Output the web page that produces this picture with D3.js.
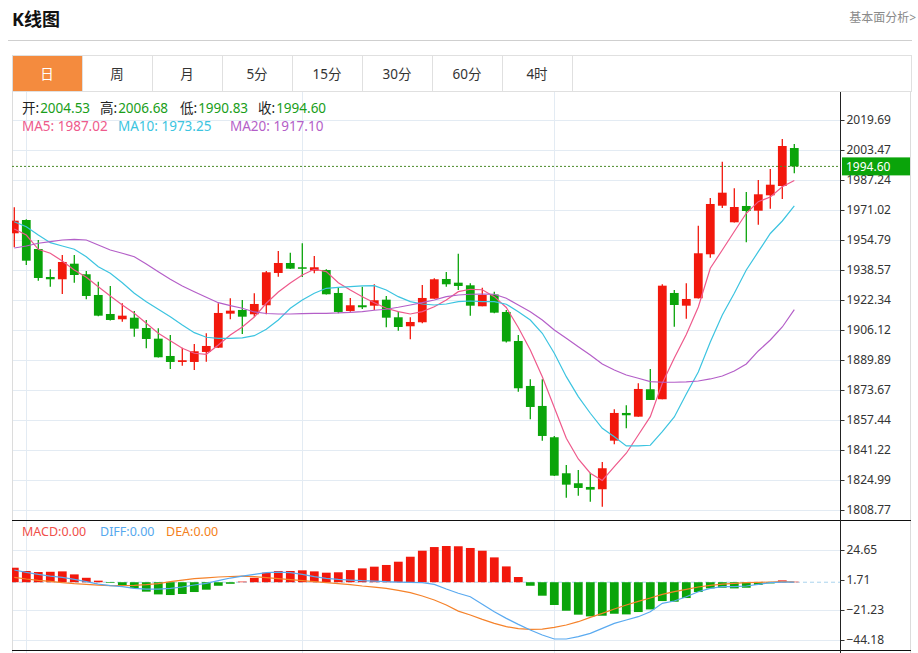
<!DOCTYPE html>
<html lang="zh">
<head>
<meta charset="utf-8">
<script src="https://d3js.org/d3.v7.min.js"></script>
<style>
body { margin: 0; background: #fff; }
text { font-family: "Noto Sans", "Noto Sans CJK SC", sans-serif; }
</style>
</head>
<body>
<svg width="918" height="653"></svg>
<script>
var tabs = ["日", "周", "月", "5分", "15分", "30分", "60分", "4时"];
var priceTicks = [2019.69, 2003.47, 1987.24, 1971.02, 1954.79, 1938.57, 1922.34, 1906.12, 1889.89, 1873.67, 1857.44, 1841.22, 1824.99, 1808.77];
var macdTicks = [24.65, 1.71, -21.23, -44.18];
var monthLines = [1, 24, 45];

var opens = [1958.42, 1965.61, 1949.93, 1934.79, 1933.55, 1941.98, 1936.25, 1925.06, 1914.78, 1911.92,
  1912.78, 1907.21, 1901.43, 1892.07, 1888.83, 1888.83, 1894.24, 1896.56, 1914.95, 1916.95,
  1914.62, 1919.49, 1936.96, 1942.36, 1940.04, 1938.20, 1938.58, 1926.14, 1916.41, 1919.49,
  1919.27, 1922.52, 1913.00, 1908.13, 1910.30, 1923.06, 1933.71, 1931.71, 1930.30, 1918.95,
  1925.33, 1915.87, 1900.18, 1875.85, 1865.04, 1848.11, 1828.64, 1823.24, 1821.23, 1819.99,
  1846.27, 1861.25, 1859.25, 1874.07, 1868.66, 1926.14, 1919.27, 1923.27, 1947.07, 1973.35,
  1964.37, 1973.19, 1970.64, 1978.97, 1984.00, 2004.53];
var highs = [1972.48, 1966.00, 1954.80, 1938.96, 1946.69, 1946.69, 1938.04, 1932.25, 1929.93, 1920.57,
  1916.41, 1911.54, 1907.05, 1903.43, 1896.56, 1898.56, 1904.35, 1920.57, 1923.27, 1922.35,
  1925.98, 1938.04, 1948.85, 1947.93, 1953.02, 1946.15, 1938.96, 1929.22, 1923.44, 1929.55,
  1930.84, 1924.52, 1916.03, 1913.00, 1930.47, 1934.09, 1937.50, 1947.39, 1931.39, 1929.01,
  1926.84, 1916.95, 1903.43, 1879.47, 1879.47, 1848.80, 1833.13, 1830.43, 1828.97, 1834.75,
  1863.25, 1865.41, 1877.31, 1885.04, 1930.84, 1927.76, 1931.39, 1962.53, 1977.51, 1997.14,
  1982.76, 1980.76, 1987.24, 1993.19, 2009.42, 2006.68];
var lows = [1950.85, 1941.28, 1932.79, 1929.55, 1925.60, 1931.71, 1922.73, 1913.50, 1911.30, 1910.62,
  1902.51, 1896.24, 1891.20, 1885.04, 1886.83, 1884.50, 1888.99, 1896.40, 1911.92, 1903.97,
  1913.32, 1914.62, 1934.95, 1939.10, 1934.79, 1936.79, 1925.30, 1915.16, 1916.03, 1917.49,
  1916.95, 1907.59, 1905.75, 1901.10, 1909.76, 1923.00, 1929.55, 1927.76, 1913.87, 1918.90,
  1915.16, 1899.37, 1872.77, 1857.84, 1846.27, 1827.20, 1815.45, 1816.53, 1813.29, 1810.58,
  1844.32, 1852.98, 1859.20, 1868.20, 1868.60, 1907.92, 1912.24, 1923.10, 1945.23, 1972.10,
  1964.30, 1953.56, 1963.07, 1971.73, 1976.97, 1990.83];
var closes = [1965.24, 1943.61, 1934.25, 1933.55, 1942.90, 1935.87, 1924.52, 1913.87, 1911.54, 1913.87,
  1906.84, 1901.27, 1891.37, 1888.83, 1889.75, 1894.61, 1897.48, 1915.33, 1916.57, 1913.32,
  1920.19, 1937.33, 1942.36, 1939.28, 1939.28, 1940.04, 1925.44, 1915.87, 1919.49, 1918.41,
  1922.19, 1912.78, 1907.75, 1910.46, 1923.44, 1933.55, 1930.84, 1929.93, 1919.27, 1925.06,
  1915.49, 1899.91, 1874.61, 1864.49, 1848.81, 1827.35, 1822.48, 1820.69, 1819.78, 1831.35,
  1861.25, 1860.01, 1874.23, 1868.28, 1930.09, 1919.65, 1922.90, 1947.61, 1974.27, 1980.38,
  1972.64, 1970.48, 1979.51, 1984.70, 2005.63, 1994.60];

var ma5 = [1960.75, 1957.50, 1949.77, 1947.61, 1943.44, 1938.58, 1934.63, 1929.55, 1924.52, 1919.65,
  1915.16, 1909.76, 1904.35, 1900.35, 1896.24, 1893.53, 1892.99, 1898.02, 1903.43, 1907.75,
  1913.16, 1920.57, 1926.68, 1931.55, 1935.87, 1938.96, 1937.66, 1931.71, 1927.76, 1924.14,
  1920.89, 1917.87, 1916.03, 1914.78, 1916.03, 1918.73, 1922.35, 1926.84, 1928.14, 1927.90,
  1924.14, 1918.30, 1907.48, 1895.32, 1880.88, 1864.22, 1847.57, 1836.38, 1828.64, 1824.75,
  1832.21, 1839.46, 1849.35, 1859.25, 1877.31, 1890.99, 1903.70, 1918.57, 1939.50, 1949.39,
  1959.40, 1969.24, 1975.51, 1978.05, 1983.62, 1987.02];
var ma10 = [1964.70, 1961.99, 1957.50, 1953.34, 1951.56, 1949.77, 1945.77, 1940.36, 1936.79, 1931.71,
  1925.98, 1921.44, 1917.33, 1913.32, 1908.84, 1904.67, 1902.19, 1901.64, 1901.64, 1901.91,
  1903.05, 1906.51, 1911.54, 1917.87, 1922.35, 1925.98, 1928.68, 1929.22, 1929.55, 1929.93,
  1930.09, 1927.76, 1924.14, 1921.44, 1920.19, 1919.65, 1920.19, 1921.44, 1921.81, 1921.44,
  1921.44, 1920.03, 1916.03, 1911.54, 1904.35, 1893.53, 1880.88, 1870.06, 1861.09, 1852.98,
  1848.43, 1843.41, 1843.41, 1843.78, 1851.14, 1859.09, 1871.52, 1883.42, 1899.64, 1914.24,
  1925.98, 1938.58, 1948.47, 1958.31, 1965.07, 1973.25];
var ma20 = [1950.47, 1951.56, 1953.02, 1953.88, 1954.80, 1955.18, 1954.80, 1952.10, 1949.39, 1947.61,
  1945.77, 1941.82, 1937.66, 1933.55, 1929.93, 1926.84, 1923.81, 1920.89, 1919.27, 1917.87,
  1915.87, 1915.05, 1914.78, 1914.78, 1914.95, 1915.16, 1915.16, 1915.33, 1915.70, 1916.03,
  1916.79, 1917.33, 1918.41, 1919.65, 1920.89, 1922.35, 1924.14, 1925.06, 1925.44, 1925.60,
  1925.44, 1923.27, 1919.65, 1916.03, 1911.54, 1906.13, 1901.64, 1897.10, 1892.61, 1887.75,
  1884.50, 1881.80, 1880.01, 1878.18, 1877.85, 1877.85, 1878.01, 1878.55, 1879.64, 1881.26,
  1883.96, 1887.75, 1894.78, 1900.72, 1907.75, 1917.10];

var macd = [11.1, 8.6, 7.8, 8.0, 8.3, 6.0, 3.4, 1.2, -0.5, -2.2,
  -4.5, -7.2, -9.3, -9.8, -9.0, -7.5, -5.7, -2.7, -1.2, 0.5,
  3.4, 7.3, 8.6, 8.6, 9.1, 8.3, 7.3, 7.6, 9.3, 10.6,
  11.9, 13.2, 15.7, 19.5, 24.1, 26.9, 27.7, 27.5, 26.2, 24.1,
  19.0, 12.1, 4.0, -2.7, -10.3, -17.4, -21.8, -24.8, -26.1, -25.6,
  -24.1, -24.6, -22.8, -20.8, -14.4, -14.9, -12.1, -7.5, -4.7, -4.2,
  -4.7, -4.2, -2.1, -0.9, 1.4, 0.4];
var diff = [9.33, 7.55, 6.02, 4.74, 3.72, 2.19, 0.41, -1.38, -2.65, -3.42,
  -4.69, -5.20, -5.20, -4.69, -3.67, -2.14, -0.87, 1.17, 3.21, 4.74,
  6.02, 7.29, 7.80, 7.29, 6.02, 4.23, 2.96, 2.19, 1.68, 1.17,
  0.92, 0.41, 0.15, -0.10, -0.36, -1.63, -5.20, -8.40, -11.06, -16.92,
  -22.53, -27.63, -32.22, -36.55, -40.37, -43.43, -43.43, -41.65, -39.10, -35.28,
  -31.45, -28.90, -26.35, -22.53, -16.16, -14.37, -11.06, -7.24, -4.69, -3.42,
  -3.42, -2.90, -1.63, -0.36, 0.15, 0.15];
var dea = [3.72, 2.45, 1.43, 0.66, -0.36, -1.12, -1.63, -2.14, -2.65, -2.65,
  -2.40, -1.89, -1.12, 0.41, 1.68, 2.80, 3.40, 4.00, 4.40, 4.60,
  4.23, 3.47, 2.70, 1.94, 1.17, 0.41, -0.36, -1.12, -1.89, -2.90,
  -3.67, -4.69, -6.22, -8.00, -10.55, -13.61, -17.43, -22.10, -25.08, -28.40,
  -31.45, -34.00, -35.53, -36.04, -35.79, -34.51, -32.73, -30.18, -26.87, -23.81,
  -20.49, -17.43, -14.63, -12.08, -9.28, -7.24, -5.46, -3.67, -2.40, -1.38,
  -0.87, -0.36, -0.10, 0.15, 0.41, 0.15];

var svg = d3.select("svg");
var left = 12, right = 840, frameRight = 910;
var upColor = "#f2180c", downColor = "#0aa40a";
var gridColor = "#e3ebf3";

// header
svg.append("text")
  .attr("x", 12).attr("y", 26)
  .attr("font-size", "18px").attr("font-weight", "bold").attr("fill", "#111")
  .text("K线图");
svg.append("text")
  .attr("x", 916).attr("y", 22).attr("text-anchor", "end")
  .attr("font-size", "12px").attr("fill", "#8a8a8a")
  .text("基本面分析>");
svg.append("line")
  .attr("x1", 8).attr("x2", 912).attr("y1", 40.5).attr("y2", 40.5)
  .attr("stroke", "#cfcfcf");

// tabs
var tabW = 70;
svg.append("rect")
  .attr("x", 12.5).attr("y", 55.5).attr("width", 899).attr("height", 36)
  .attr("fill", "#fff").attr("stroke", "#e0e0e0");
tabs.forEach(function(t, i) {
  var x0 = left + i * tabW;
  if (i == 0) {
    svg.append("rect").attr("x", x0).attr("y", 56).attr("width", tabW).attr("height", 35)
      .attr("fill", "#f48b3e");
  }
  svg.append("line")
    .attr("x1", x0 + tabW + 0.5).attr("x2", x0 + tabW + 0.5).attr("y1", 56).attr("y2", 91)
    .attr("stroke", "#e0e0e0");
  svg.append("text")
    .attr("x", x0 + tabW / 2).attr("y", 74)
    .attr("text-anchor", "middle").attr("dominant-baseline", "central")
    .attr("font-size", "13.5px").attr("fill", i == 0 ? "#fff" : "#333")
    .text(t);
});

// scales
var x = d3.scaleBand()
  .domain(d3.range(closes.length))
  .range([8.3, 8.3 + 12 * closes.length])
  .paddingInner(0.27).paddingOuter(0.135);
function xc(i) { return x(i) + x.bandwidth() / 2; }
var y = d3.scaleLinear().domain([1808.77, 2019.69]).range([510, 120]);
var ym = d3.scaleLinear().domain([-44.18, 24.65]).range([640, 550]);

svg.append("clipPath").attr("id", "clipMain")
  .append("rect").attr("x", left).attr("y", 92).attr("width", right - left).attr("height", 428);
svg.append("clipPath").attr("id", "clipMacd")
  .append("rect").attr("x", left).attr("y", 521).attr("width", right - left).attr("height", 129);

// grid
svg.selectAll(".hgrid").data(priceTicks).enter().append("line")
  .attr("x1", left).attr("x2", right)
  .attr("y1", function(d) { return Math.round(y(d)) + 0.5; })
  .attr("y2", function(d) { return Math.round(y(d)) + 0.5; })
  .attr("stroke", gridColor);
svg.selectAll(".mgrid").data(macdTicks.filter(function(d) { return d != 1.71; })).enter().append("line")
  .attr("x1", left).attr("x2", right)
  .attr("y1", function(d) { return Math.round(ym(d)) + 0.5; })
  .attr("y2", function(d) { return Math.round(ym(d)) + 0.5; })
  .attr("stroke", gridColor);
svg.selectAll(".vgrid").data(monthLines).enter().append("line")
  .attr("x1", function(d) { return Math.round(xc(d)) + 0.5; })
  .attr("x2", function(d) { return Math.round(xc(d)) + 0.5; })
  .attr("y1", 92).attr("y2", 653)
  .attr("stroke", gridColor);

// frame
svg.append("line").attr("x1", 12.5).attr("x2", 12.5).attr("y1", 55).attr("y2", 653).attr("stroke", "#dcdcdc");
svg.append("line").attr("x1", frameRight + 0.5).attr("x2", frameRight + 0.5).attr("y1", 92).attr("y2", 653).attr("stroke", "#dcdcdc");

// candles
var main = svg.append("g").attr("clip-path", "url(#clipMain)");
var candle = main.selectAll(".candle").data(closes).enter().append("g");
candle.append("line")
  .attr("x1", function(d, i) { return xc(i); })
  .attr("x2", function(d, i) { return xc(i); })
  .attr("y1", function(d, i) { return y(highs[i]); })
  .attr("y2", function(d, i) { return y(lows[i]); })
  .attr("stroke-width", 1.3)
  .attr("stroke", function(d, i) { return d >= opens[i] ? upColor : downColor; });
candle.append("rect")
  .attr("x", function(d, i) { return x(i); })
  .attr("width", x.bandwidth())
  .attr("y", function(d, i) { return y(Math.max(d, opens[i])); })
  .attr("height", function(d, i) { return Math.max(1.5, Math.abs(y(d) - y(opens[i]))); })
  .attr("fill", function(d, i) { return d >= opens[i] ? upColor : downColor; });

// moving averages
var line = d3.line().x(function(d, i) { return xc(i); }).y(function(d) { return y(d); });
[[ma5, "#ee5a8c"], [ma10, "#3cc4e0"], [ma20, "#b45fc8"]].forEach(function(s) {
  main.append("path").attr("d", line(s[0]))
    .attr("fill", "none").attr("stroke", s[1]).attr("stroke-width", 1.2);
});

// last price
var last = closes[closes.length - 1];
svg.append("line")
  .attr("x1", left).attr("x2", right)
  .attr("y1", y(last)).attr("y2", y(last))
  .attr("stroke", "#4a8a2a").attr("stroke-dasharray", "2,2");

// legends
[["开:", opens, 22], ["高:", highs, 100], ["低:", lows, 180], ["收:", closes, 258]].forEach(function(p) {
  var t = svg.append("text").attr("x", p[2]).attr("y", 113).attr("font-size", "13.5px");
  t.append("tspan").attr("fill", "#222").text(p[0]);
  t.append("tspan").attr("fill", "#1a9e1a").attr("dx", 1).text(p[1][p[1].length - 1].toFixed(2));
});
[["MA5: ", ma5, "#ee5a8c", 22], ["MA10: ", ma10, "#3cc4e0", 118], ["MA20: ", ma20, "#b45fc8", 230]].forEach(function(p) {
  svg.append("text").attr("x", p[3]).attr("y", 131).attr("font-size", "13.5px")
    .attr("fill", p[2])
    .text(p[0] + p[1][p[1].length - 1].toFixed(2));
});

// macd panel
var mg = svg.append("g").attr("clip-path", "url(#clipMacd)");
mg.append("line")
  .attr("x1", left).attr("x2", right)
  .attr("y1", ym(0)).attr("y2", ym(0))
  .attr("stroke", "#a9d3ee").attr("stroke-dasharray", "4,3");
mg.selectAll(".bar").data(macd).enter().append("rect")
  .attr("x", function(d, i) { return x(i); })
  .attr("width", x.bandwidth())
  .attr("y", function(d) { return ym(Math.max(d, 0)); })
  .attr("height", function(d) { return Math.abs(ym(d) - ym(0)); })
  .attr("fill", function(d) { return d >= 0 ? upColor : downColor; });
var mline = d3.line().x(function(d, i) { return xc(i); }).y(function(d) { return ym(d); });
mg.append("path").attr("d", mline(dea)).attr("fill", "none").attr("stroke", "#f5822a").attr("stroke-width", 1.2);
mg.append("path").attr("d", mline(diff)).attr("fill", "none").attr("stroke", "#5aaaf0").attr("stroke-width", 1.2);

[["MACD:0.00", "#f0504a", 22], ["DIFF:0.00", "#55a8ee", 100], ["DEA:0.00", "#f47f20", 166]].forEach(function(p) {
  svg.append("text").attr("x", p[2]).attr("y", 536).attr("font-size", "12.5px")
    .attr("fill", p[1]).text(p[0]);
});

// panel separators
[520.5, 650.5].forEach(function(yy) {
  svg.append("line").attr("x1", left).attr("x2", frameRight + 1).attr("y1", yy).attr("y2", yy)
    .attr("stroke", "#111").attr("stroke-width", 1.2);
});

// axes
svg.append("line").attr("x1", right + 0.5).attr("x2", right + 0.5).attr("y1", 92).attr("y2", 653)
  .attr("stroke", "#222");
var ay = svg.append("g").attr("transform", "translate(" + (right + 0.5) + ",0)")
  .call(d3.axisRight(y).tickValues(priceTicks).tickSize(4).tickFormat(d3.format(".2f")));
var am = svg.append("g").attr("transform", "translate(" + (right + 0.5) + ",0)")
  .call(d3.axisRight(ym).tickValues(macdTicks).tickSize(4).tickFormat(d3.format(".2f")));
[ay, am].forEach(function(a) {
  a.select(".domain").remove();
  a.selectAll("line").attr("stroke", "#333");
  a.selectAll("text").attr("font-size", "12px").attr("fill", "#333")
    .attr("font-family", "'Noto Sans', sans-serif").attr("x", 6);
});

// last price tag
svg.append("rect")
  .attr("x", 842).attr("y", y(last) - 9).attr("width", 68).attr("height", 18)
  .attr("fill", downColor);
svg.append("text")
  .attr("x", 846).attr("y", y(last)).attr("dominant-baseline", "central")
  .attr("font-size", "12px").attr("fill", "#fff")
  .text(last.toFixed(2));
</script>
</body>
</html>
